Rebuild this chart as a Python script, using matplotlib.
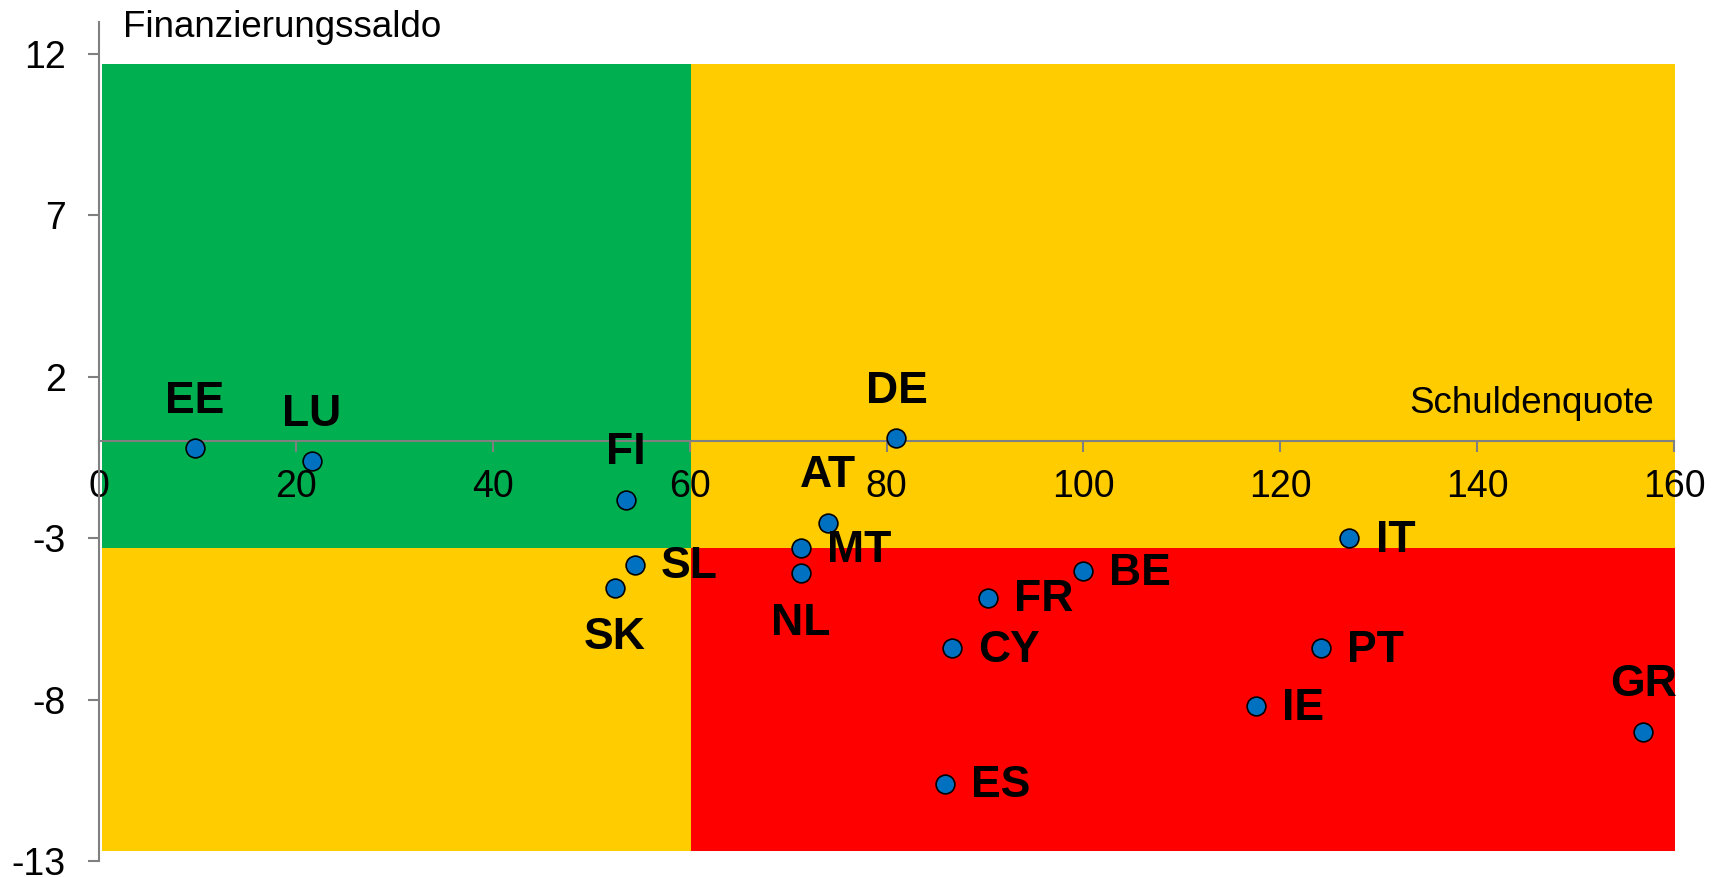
import matplotlib
matplotlib.use("Agg")
import matplotlib.pyplot as plt

plt.rcParams['font.family'] = ['Liberation Sans', 'DejaVu Sans']
plt.rcParams['axes.unicode_minus'] = False

# country data: debt ratio (x), financing balance (y)
countries = ["EE", "LU", "FI", "DE", "AT", "MT", "NL", "SL", "SK",
             "FR", "BE", "CY", "ES", "IT", "PT", "IE", "GR"]
debt = [9.7, 21.6, 53.5, 81.0, 74.0, 71.3, 71.3, 54.4, 52.4,
        90.3, 99.9, 86.6, 85.9, 127.0, 124.1, 117.5, 156.9]
balance = [-0.22, -0.62, -1.81, 0.09, -2.53, -3.31, -4.09, -3.82, -4.53,
           -4.84, -4.02, -6.40, -10.61, -3.0, -6.40, -8.20, -9.01]
label_pos = ["above", "above", "above", "above", "above", "right", "below",
             "right", "below", "right", "right", "right", "right", "right",
             "right", "right", "above"]

# background zones
zone_x = [0.25, 60.1, 160.3]
zone_y = [-12.7, -3.3, 11.7]
zone_colors = [["#FFCC00", "#FF0000"],   # lower row: left, right
               ["#00B050", "#FFCC00"]]   # upper row: left, right

x_ticks = [0, 20, 40, 60, 80, 100, 120, 140, 160]
y_ticks = [-13, -8, -3, 2, 7, 12]

fig = plt.figure(figsize=(17.19, 8.77), dpi=100)
ax = fig.add_axes([0.05777, 0.01824, 0.91605, 0.95702])

for row in range(2):
    for col in range(2):
        ax.fill_between([zone_x[col], zone_x[col + 1]], zone_y[row], zone_y[row + 1],
                        color=zone_colors[row][col], linewidth=0, zorder=1)

ax.plot(debt, balance, linestyle="none", marker="o", markersize=13.5,
        markerfacecolor="#0070C0", markeredgecolor="black", markeredgewidth=1.2,
        zorder=4)

offsets = {"above": ((0, 34), "center", "center"),
           "below": ((0, -36), "center", "center"),
           "right": ((19, -1.5), "left", "center")}
for name, x, y, pos in zip(countries, debt, balance, label_pos):
    off, ha, va = offsets[pos]
    ax.annotate(name, (x, y), xytext=off, textcoords="offset points",
                ha=ha, va=va, fontsize=32, fontweight="bold", zorder=5)

ax.set_xlim(0, 160)
ax.set_ylim(-13, 13)
ax.set_xticks(x_ticks)
ax.set_yticks(y_ticks)
ax.set_facecolor("none")

for s in ["top", "right"]:
    ax.spines[s].set_visible(False)
ax.spines["bottom"].set_position(("data", 0))
for s in ["left", "bottom"]:
    ax.spines[s].set_color("#808080")
    ax.spines[s].set_linewidth(1.5)
    ax.spines[s].set_zorder(3)

ax.tick_params(axis="x", direction="out", length=8, width=1.5, color="#808080",
               labelsize=27, pad=12)
ax.tick_params(axis="y", direction="out", length=8, width=1.5, color="#808080",
               labelsize=27, pad=16)

fig.text(122.8 / 1719, 1 - 36.7 / 877, "Finanzierungssaldo", fontsize=26.5,
         ha="left", va="baseline")
ax.text(158.0, 0.88, "Schuldenquote", fontsize=26.5, ha="right", va="baseline",
        zorder=5)

fig.savefig("out.png", dpi=100)
